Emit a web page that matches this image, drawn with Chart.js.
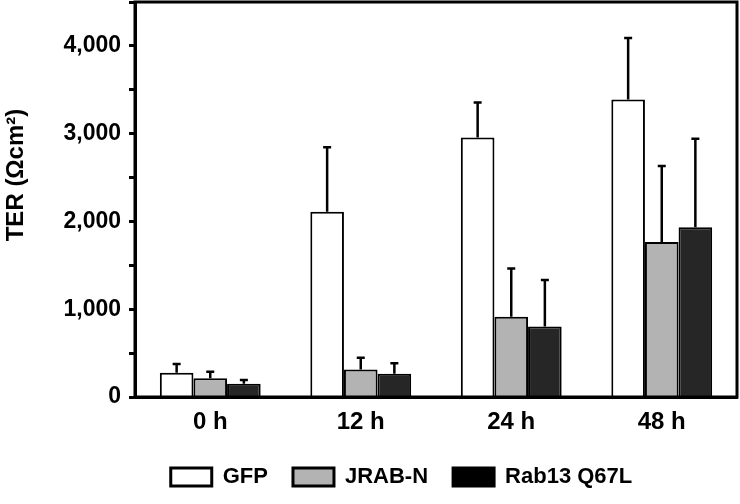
<!DOCTYPE html>
<html>
<head>
<meta charset="utf-8">
<script src="https://cdn.jsdelivr.net/npm/chart.js@4.4.1/dist/chart.umd.min.js"></script>
<style>
  html, body { margin: 0; padding: 0; background: #fff; }
  #wrap { width: 740px; height: 504px; }
</style>
</head>
<body>
<div id="wrap"><canvas id="c" width="740" height="504"></canvas></div>
<script>
const categories = ['0 h', '12 h', '24 h', '48 h'];
const seriesNames = ['GFP', 'JRAB-N', 'Rab13 Q67L'];
const gfp = [275, 2110, 2955, 3390];
const gfpErr = [100, 735, 400, 700];
const jrab = [215, 312, 915, 1765];
const jrabErr = [72, 134, 548, 868];
const rab = [152, 266, 803, 1935];
const rabErr = [42, 119, 530, 1006];
const yTickValues = [0, 1000, 2000, 3000, 4000];
const yTitle = 'TER (Ωcm²)';

const FONT = "'Liberation Sans', Arial, Helvetica, sans-serif";

const errorBars = {
  id: 'errorBars',
  afterDatasetsDraw(chart) {
    const ctx = chart.ctx;
    const yScale = chart.scales.y;
    ctx.save();
    ctx.strokeStyle = '#000';
    ctx.lineWidth = 2.5;
    chart.data.datasets.forEach((ds, i) => {
      const meta = chart.getDatasetMeta(i);
      meta.data.forEach((el, j) => {
        const v = ds.data[j];
        const e = ds.errors[j];
        const yTop = yScale.getPixelForValue(v + e);
        const yBase = el.y;
        ctx.beginPath();
        ctx.moveTo(el.x, yBase);
        ctx.lineTo(el.x, yTop);
        ctx.moveTo(el.x - 4, yTop);
        ctx.lineTo(el.x + 4, yTop);
        ctx.stroke();
      });
    });
    ctx.restore();
  }
};

const frame = {
  id: 'frame',
  afterDraw(chart) {
    const a = chart.chartArea;
    const ctx = chart.ctx;
    ctx.save();
    ctx.strokeStyle = '#000';
    ctx.lineWidth = 3;
    ctx.strokeRect(a.left, a.top, a.right - a.left, a.bottom - a.top);
    // y-axis title
    ctx.translate(16, 175);
    ctx.rotate(-Math.PI / 2);
    ctx.fillStyle = '#000';
    ctx.font = "bold 24px " + FONT;
    ctx.textAlign = 'center';
    ctx.textBaseline = 'middle';
    ctx.fillText(yTitle, 0, 0);
    ctx.restore();
  }
};

const legendShift = {
  id: 'legendShift',
  afterLayout(chart) {
    const lg = chart.legend;
    if (lg) { lg.left += 33; lg.right += 33; }
  }
};

new Chart(document.getElementById('c'), {
  type: 'bar',
  data: {
    labels: categories,
    datasets: [
      { label: seriesNames[0], data: gfp, errors: gfpErr, backgroundColor: '#ffffff', borderColor: '#000', borderWidth: 2 },
      { label: seriesNames[1], data: jrab, errors: jrabErr, backgroundColor: '#b3b3b3', borderColor: '#000', borderWidth: 2 },
      { label: seriesNames[2], data: rab, errors: rabErr, backgroundColor: '#262626', borderColor: '#000', borderWidth: 2 }
    ]
  },
  options: {
    responsive: false,
    animation: false,
    devicePixelRatio: 1,
    layout: { padding: { top: 2, right: 3, left: 0, bottom: 6 } },
    datasets: { bar: { categoryPercentage: 0.67, barPercentage: 1.0 } },
    scales: {
      x: {
        grid: { display: false },
        border: { display: true, color: '#000', width: 3 },
        ticks: { color: '#000', font: { family: FONT, size: 24, weight: 'bold' }, padding: 3, maxRotation: 0 },
        afterFit(s) { s.height = 44; s.paddingLeft = 0; s.paddingRight = 0; }
      },
      y: {
        min: 0, max: 4500,
        grid: { display: true, drawOnChartArea: false, drawTicks: true, tickLength: 6, tickWidth: 3, tickColor: '#000' },
        border: { display: true, color: '#000', width: 3 },
        ticks: {
          stepSize: 500,
          color: '#000',
          padding: 8,
          font: { family: FONT, size: 23, weight: 'bold' },
          callback(v) { return yTickValues.includes(v) ? v.toLocaleString('en-US') : ''; }
        },
        title: { display: false },
        afterFit(s) { s.width = 135; s.paddingTop = 0; s.paddingBottom = 0; }
      }
    },
    plugins: {
      legend: {
        position: 'bottom',
        labels: {
          color: '#000',
          boxWidth: 41, boxHeight: 18,
          padding: 25,
          font: { family: FONT, size: 22, weight: 'bold' },
          generateLabels(chart) {
            return chart.data.datasets.map((ds, i) => ({
              text: ds.label,
              fillStyle: i === 2 ? '#000' : ds.backgroundColor,
              strokeStyle: '#000',
              lineWidth: 3,
              hidden: false,
              datasetIndex: i
            }));
          }
        }
      },
      tooltip: { enabled: false }
    }
  },
  plugins: [errorBars, frame, legendShift]
});
</script>
</body>
</html>
